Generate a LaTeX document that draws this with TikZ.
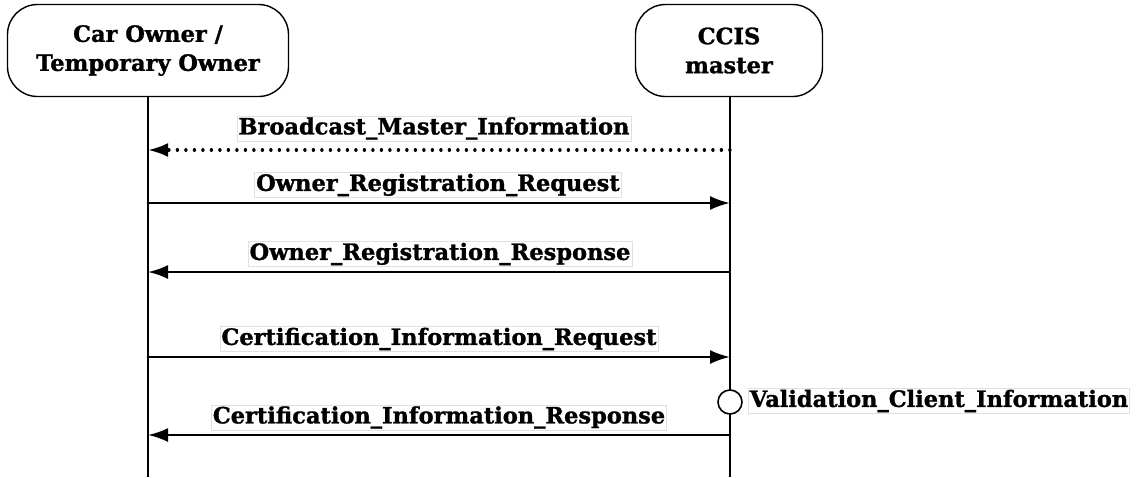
\documentclass[tikz,border=0pt]{standalone}
\usepackage{fontspec}
\setmainfont[BoldFeatures={FakeBold=1.2}]{DejaVu Serif}
\usetikzlibrary{arrows.meta}
\begin{document}
\begin{tikzpicture}[x=1pt,y=-1pt,
 actor/.style={draw,line width=1.4pt,rounded corners=30pt,minimum height=92pt,align=center,font=\bfseries\fontsize{22.5}{29}\selectfont},
 msg/.style={line width=2.4pt,-{Latex[length=20pt,width=14pt]}},
 dotmsg/.style={msg,line cap=round,dash pattern=on 0.2pt off 8.3pt,line width=3.2pt},
 lbl/.style={draw=black!12,line width=0.6pt,fill=white,inner sep=1.5pt,font=\bfseries\fontsize{22.5}{26}\selectfont},
 life/.style={line width=2pt},
 act/.style={circle,draw,line width=1.6pt,fill=white,minimum size=24pt,inner sep=0pt}]
\useasboundingbox (0,0) rectangle (1138,477);
\node[actor,minimum width=281pt] (A) at (148,50.5) {Car Owner /\\Temporary Owner};
\node[actor,minimum width=187pt] (B) at (729,50.5) {CCIS\\master};
\coordinate (Aend) at (148,477);
\coordinate (Bend) at (730,477);
\draw[life] (A.south) -- (Aend);
\draw[life] (B.south -| Bend) -- (Bend);
% message anchors
\coordinate (A1) at (148,150); \coordinate (B1) at (730,150);
\coordinate (A2) at (148,203); \coordinate (B2) at (730,203);
\coordinate (A3) at (148,272); \coordinate (B3) at (730,272);
\coordinate (A4) at (148,357); \coordinate (B4) at (730,357);
\coordinate (A5) at (148,435); \coordinate (B5) at (730,435);
\draw[dotmsg] (B1) -- (A1);
\draw[msg] (A2) -- (B2);
\draw[msg] (B3) -- (A3);
\draw[msg] (A4) -- (B4);
\draw[msg] (B5) -- (A5);
\node[lbl] (m1) at (434,128.5) {Broadcast\_Master\_Information};
\node[lbl] (m2) at (438,185) {Owner\_Registration\_Request};
\node[lbl] (m3) at (440,254) {Owner\_Registration\_Response};
\node[lbl] (m4) at (439,339) {Certification\_Information\_Request};
\node[lbl] (m5) at (439,417.5) {Certification\_Information\_Response};
\node[act] (C) at (730,402) {};
\node[lbl,anchor=west] (v) at (748,401) {Validation\_Client\_Information};
\end{tikzpicture}
\end{document}
